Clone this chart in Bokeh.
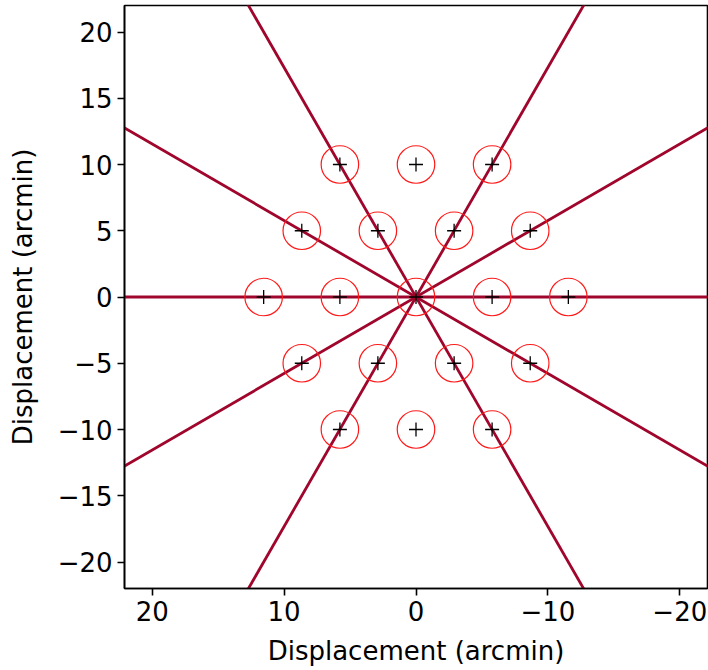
import numpy as np
from bokeh.plotting import figure
from bokeh.models import Range1d, FixedTicker
from bokeh.embed import file_html
from bokeh.resources import INLINE

# pointing positions (arcmin)
point_x = [5.77, 0.0, -5.77,
           8.66, 2.89, -2.89, -8.66,
           11.55, 5.77, 0.0, -5.77, -11.55,
           8.66, 2.89, -2.89, -8.66,
           5.77, 0.0, -5.77]
point_y = [10, 10, 10,
           5, 5, 5, 5,
           0, 0, 0, 0, 0,
           -5, -5, -5, -5,
           -10, -10, -10]

# scan line directions (degrees from +x axis)
line_angles = [0, 30, 60, 120, 150]

x_ticks = [20, 10, 0, -10, -20]
x_tick_labels = ["20", "10", "0", "\u221210", "\u221220"]
y_ticks = [-20, -15, -10, -5, 0, 5, 10, 15, 20]
y_tick_labels = ["\u221220", "\u221215", "\u221210", "\u22125", "0", "5", "10", "15", "20"]

FONT = "DejaVu Sans"
FS = "26px"

p = figure(frame_width=583, frame_height=583,
           x_range=Range1d(22.1, -22.1), y_range=Range1d(-22, 22),
           output_backend="svg", toolbar_location=None,
           min_border_left=124, min_border_right=1,
           min_border_top=5, min_border_bottom=82)
p.grid.visible = False
p.background_fill_color = "white"
p.border_fill_color = "white"
p.outline_line_color = "black"
p.outline_line_width = 1.6

r = np.array([-40.0, 40.0])
for a in line_angles:
    t = np.deg2rad(a)
    p.line(r * np.cos(t), r * np.sin(t), line_color="#a0052c", line_width=2.8)

p.scatter(point_x, point_y, marker="circle", size=37.5, fill_color=None,
          line_color="#ff1a1a", line_width=1.2)
p.scatter(point_x, point_y, marker="cross", size=14, line_color="black",
          line_width=1.3)

for ax, ticks, labels in ((p.xaxis[0], x_ticks, x_tick_labels),
                          (p.yaxis[0], y_ticks, y_tick_labels)):
    ax.ticker = FixedTicker(ticks=ticks)
    ax.major_label_overrides = {t: l for t, l in zip(ticks, labels)}
    ax.axis_label = "Displacement (arcmin)"
    ax.axis_label_text_font = FONT
    ax.axis_label_text_font_size = FS
    ax.axis_label_text_font_style = "normal"
    ax.major_label_text_font = FONT
    ax.major_label_text_font_size = FS
    ax.major_label_text_color = "black"
    ax.axis_label_text_color = "black"
    ax.axis_line_color = "black"
    ax.axis_line_width = 1.6
    ax.major_tick_line_color = "black"
    ax.major_tick_line_width = 1.6
    ax.major_tick_out = 7
    ax.major_tick_in = 0
    ax.minor_tick_line_color = None
    ax.major_label_standoff = 5

p.xaxis.axis_label_standoff = 12
p.yaxis.axis_label_standoff = 17

open("out.html", "w").write(file_html(p, INLINE))
